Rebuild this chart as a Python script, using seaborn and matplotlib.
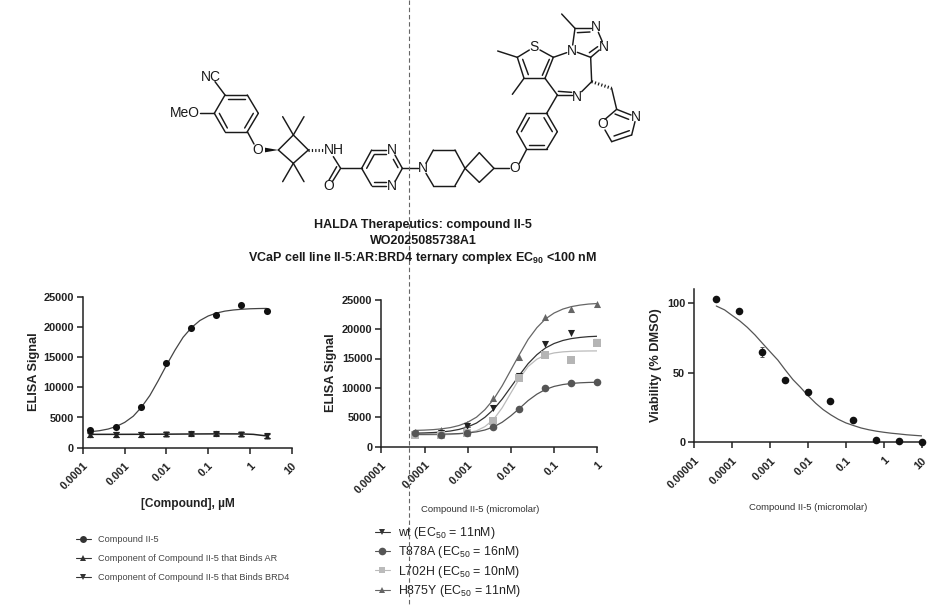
import numpy as np
import matplotlib
matplotlib.use('Agg')
import matplotlib.pyplot as plt
from matplotlib.lines import Line2D
import seaborn as sns

# left panel: compound II-5 and its two components
conc_left = [0.00015, 0.00061, 0.00244, 0.0098, 0.039, 0.156, 0.625, 2.5]
compound = [2870, 3480, 6790, 14020, 19800, 21970, 23600, 22570]
binds_ar = [2250, 2230, 2240, 2260, 2430, 2420, 2320, 1980]
binds_brd4 = [2150, 2150, 2170, 2200, 2330, 2350, 2250, 1950]
ar_err = [420, 420, 420, 380, 380, 420, 350, 380]
brd4_err = [330, 380, 380, 340, 340, 330, 300, 300]

fit_x_left = [0.00015, 0.00025, 0.0004, 0.00063, 0.001, 0.0016, 0.0025, 0.004, 0.0063, 0.01, 0.016,
              0.025, 0.04, 0.063, 0.1, 0.16, 0.25, 0.4, 0.63, 1.0, 1.6, 2.5]
fit_compound = [2640, 2820, 3090, 3520, 4195, 5215, 6685, 8650, 11060, 13660, 16150,
                18280, 19900, 21050, 21810, 22300, 22610, 22800, 22920, 23000, 23040, 23060]
fit_x_flat = [0.00015, 0.00061, 0.00244, 0.0098, 0.039, 0.156, 0.625, 1.2, 2.5]
fit_flat = [2210, 2210, 2220, 2240, 2270, 2290, 2280, 2210, 1950]

# middle panel: AR mutants
conc_mid = [0.000061, 0.00024, 0.00098, 0.0039, 0.0156, 0.0625, 0.25, 1.0]
wt = [2210, 2380, 3570, 6520, 11960, 17400, 19280, 17750]
t878a = [2270, 1930, 2270, 3345, 6400, 10040, 10890, 10940]
l702h = [1980, 1930, 2270, 4420, 11680, 15650, 14690, 17580]
h875y = [2500, 2890, 3910, 8220, 15200, 22100, 23400, 24270]

fit_x_mid = [0.000063, 0.0001, 0.00016, 0.00025, 0.0004, 0.00063, 0.001, 0.0016, 0.0025, 0.004, 0.0063,
             0.01, 0.016, 0.025, 0.04, 0.063, 0.1, 0.16, 0.25, 0.4, 0.63, 1.0]
fit_wt = [2307, 2345, 2407, 2508, 2673, 2941, 3366, 4023, 5000, 6362, 8111,
          10159, 12240, 14121, 15653, 16785, 17551, 18068, 18384, 18584, 18717, 18783]
fit_t878a = [2107, 2112, 2122, 2140, 2174, 2233, 2339, 2524, 2841, 3366, 4165,
             5260, 6550, 7841, 8935, 9736, 10254, 10573, 10760, 10867, 10929, 10960]
fit_l702h = [2004, 2009, 2019, 2039, 2082, 2170, 2350, 2712, 3413, 4660, 6633,
             9150, 11667, 13640, 14884, 15586, 15950, 16130, 16218, 16260, 16282, 16292]
fit_h875y = [2774, 2824, 2905, 3038, 3254, 3605, 4161, 5022, 6297, 8085, 10374,
             13055, 15780, 18243, 20249, 21731, 22734, 23410, 23824, 24086, 24260, 24347]

# right panel: viability
conc_right = [0.000038, 0.00015, 0.00061, 0.00244, 0.0098, 0.039, 0.156, 0.625, 2.5, 10]
viability = [102.6, 94.5, 64.8, 45, 36.4, 29.4, 15.8, 1.7, 0.7, 0.5]
viability_err = [1.0, 1.0, 3.5, 1.0, 1.5, 1.0, 1.0, 0.5, 0.5, 0.5]
fit_x_right = [0.000038, 0.000063, 0.0001, 0.00016, 0.00025, 0.0004, 0.00063, 0.001, 0.0016, 0.0025,
               0.004, 0.0063, 0.01, 0.016, 0.025, 0.04, 0.063, 0.1, 0.16, 0.25, 0.4, 0.63, 1.0, 1.6,
               2.5, 4.0, 6.3, 10]
fit_viability = [97.8, 95, 91, 87, 82.5, 77, 71, 65, 59, 52,
                 45, 39.5, 33.5, 28, 23.5, 19.7, 16.5, 13.9, 12, 10.3,
                 9, 8, 7.2, 6.5, 6, 5.4, 5, 4.6]

ticks_left = ['0.0001', '0.001', '0.01', '0.1', '1', '10']
ticks_mid = ['0.00001', '0.0001', '0.001', '0.01', '0.1', '1']
ticks_right = ['0.00001', '0.0001', '0.001', '0.01', '0.1', '1', '10']

title_lines = ['HALDA Therapeutics: compound II-5', 'WO2025085738A1',
               'VCaP cell line II-5:AR:BRD4 ternary complex EC$_{90}$ <100 nM']

# molecule drawing, in pixels of a 3x view with its origin at (170, 0)
bonds = [
    (135, 245, 165, 285), (165, 285, 232, 285), (232, 285, 265, 340), (265, 340, 232, 395),
    (232, 395, 165, 395), (165, 395, 133, 340), (133, 340, 165, 285), (175, 298, 224, 298),
    (250, 340, 224, 384), (172, 384, 148, 340), (90, 340, 133, 340), (232, 395, 252, 432),
    (325, 450, 370, 405), (370, 405, 415, 450), (415, 450, 370, 490), (370, 490, 325, 450),
    (370, 405, 338, 350), (370, 405, 402, 350), (370, 490, 338, 545), (370, 490, 402, 545),
    (490, 470, 512, 505), (512, 505, 487, 545), (500, 500, 477, 540), (512, 505, 575, 505),
    (575, 505, 605, 450), (590, 505, 612, 465), (605, 450, 648, 450), (612, 462, 648, 462),
    (675, 465, 697, 505), (670, 478, 684, 503), (697, 505, 675, 545), (605, 557, 648, 557),
    (612, 545, 648, 545), (575, 505, 605, 557), (697, 505, 745, 505), (768, 490, 790, 450),
    (790, 450, 855, 450), (855, 450, 885, 505), (885, 505, 855, 557), (855, 557, 790, 557),
    (790, 557, 768, 520), (885, 505, 928, 458), (928, 458, 972, 505), (972, 505, 928, 547),
    (928, 547, 885, 505), (972, 505, 1018, 505), (1048, 490, 1070, 448), (1070, 448, 1040, 395),
    (1040, 395, 1070, 340), (1070, 340, 1130, 340), (1130, 340, 1162, 395), (1162, 395, 1130, 448),
    (1130, 448, 1070, 448), (1078, 435, 1122, 435), (1054, 395, 1078, 353), (1122, 353, 1147, 395),
    (1130, 340, 1162, 285), (1162, 285, 1205, 285), (1165, 274, 1205, 277), (1162, 285, 1125, 235),
    (1125, 235, 1062, 235), (1062, 235, 1042, 172), (1075, 224, 1058, 178), (1042, 172, 1078, 150),
    (1110, 150, 1150, 172), (1150, 172, 1125, 235), (1138, 178, 1117, 226), (1062, 235, 1027, 283),
    (1042, 172, 983, 153), (1150, 172, 1190, 158), (1208, 135, 1215, 85), (1215, 85, 1175, 42),
    (1215, 85, 1262, 85), (1222, 98, 1260, 96), (1285, 97, 1297, 125), (1288, 150, 1262, 172),
    (1283, 140, 1258, 158), (1262, 172, 1222, 157), (1262, 172, 1265, 245), (1265, 245, 1235, 275),
    (1325, 265, 1340, 328), (1340, 328, 1383, 345), (1335, 342, 1376, 358), (1395, 365, 1385, 405),
    (1385, 405, 1325, 425), (1378, 392, 1332, 408), (1340, 328, 1305, 358), (1305, 390, 1325, 425),
]
hash_bonds = [(415, 450, 460, 450), (1265, 245, 1325, 265)]
atoms = [
    ('NC', 122, 232), ('MeO', 44, 340), ('O', 262, 450), ('NH', 492, 450), ('O', 477, 557),
    ('N', 665, 450), ('N', 665, 557), ('N', 760, 505), ('O', 1035, 503), ('N', 1222, 292),
    ('S', 1093, 140), ('N', 1205, 152), ('N', 1278, 80), ('N', 1303, 140), ('O', 1297, 373),
    ('N', 1398, 350),
]

sns.set_style('white')
plt.rcParams['font.family'] = ['Liberation Sans', 'DejaVu Sans']
plt.rcParams['mathtext.fontset'] = 'custom'
plt.rcParams['mathtext.rm'] = 'Liberation Sans'
plt.rcParams['mathtext.bf'] = 'Liberation Sans:bold'
plt.rcParams['mathtext.default'] = 'regular'

W, H = 942, 607
fig = plt.figure(figsize=(W / 100, H / 100), dpi=100)


def panel(left, right, top, bottom, xlim, ylim, xlabels, yticks):
    ax = fig.add_axes([left / W, 1 - bottom / H, (right - left) / W, (bottom - top) / H])
    ax.set_xscale('log')
    ax.set_xlim(*xlim)
    ax.set_ylim(*ylim)
    ax.set_xticks([float(t) for t in xlabels])
    ax.set_xticklabels(xlabels, rotation=45, ha='right', rotation_mode='anchor',
                       fontweight='bold', fontsize=7.9, color='#222222')
    ax.minorticks_off()
    ax.set_yticks(yticks)
    ax.set_yticklabels([str(t) for t in yticks], fontweight='bold', fontsize=7.9, color='#222222')
    ax.tick_params(axis='both', length=4.5, width=1.1, color='#222222', left=True, bottom=True)
    ax.tick_params(axis='x', pad=5)
    ax.tick_params(axis='y', pad=2)
    sns.despine(ax=ax)
    for side in ['left', 'bottom']:
        ax.spines[side].set_linewidth(1.1)
        ax.spines[side].set_color('#222222')
    ax.patch.set_alpha(0)
    return ax


def curve(ax, x, y, color, lw=0.9):
    sns.lineplot(x=x, y=y, color=color, lw=lw, estimator=None, sort=False, ax=ax, zorder=2)


def points(ax, x, y, marker, color, size):
    sns.scatterplot(x=x, y=y, marker=marker, color=color, s=size, edgecolor=color, linewidth=0,
                    ax=ax, zorder=3, clip_on=False)


def xlabel_at(ax, text, x, y, **kw):
    ax.set_xlabel(text, va='center', ha='center', **kw)
    ax.xaxis.set_label_coords(x / W, 1 - y / H, transform=fig.transFigure)


def ylabel_at(ax, text, x, y):
    ax.set_ylabel(text, fontweight='bold', fontsize=9.2, color='#222222', va='center', ha='center')
    ax.yaxis.set_label_coords(x / W, 1 - y / H, transform=fig.transFigure)


def key(ax, entries, anchor, fontsize, spacing, color, hlen, hpad):
    handles = [Line2D([], [], color=c, lw=0.8, marker=m, markersize=s, markeredgewidth=0) for _, m, c, s in entries]
    ax.legend(handles, [e[0] for e in entries], loc='upper left', bbox_to_anchor=anchor,
              bbox_transform=fig.transFigure, frameon=False, fontsize=fontsize, labelspacing=spacing,
              handlelength=hlen, handletextpad=hpad, labelcolor=color, borderpad=0, borderaxespad=0)


# left
ax1 = panel(83, 291.7, 296.7, 447.7, (0.0001, 10), (0, 25000), ticks_left, [0, 5000, 10000, 15000, 20000, 25000])
curve(ax1, fit_x_left, fit_compound, '#444444')
curve(ax1, fit_x_flat, fit_flat, '#222222', lw=1.1)
ax1.errorbar(conc_left, binds_ar, yerr=ar_err, fmt='none', ecolor='#222222', elinewidth=1.0, capsize=2, capthick=0.8)
ax1.errorbar(conc_left, binds_brd4, yerr=brd4_err, fmt='none', ecolor='#222222', elinewidth=1.0, capsize=2, capthick=0.8)
points(ax1, conc_left, binds_ar, '^', '#222222', 18)
points(ax1, conc_left, binds_brd4, 'v', '#222222', 18)
points(ax1, conc_left, compound, 'o', '#111111', 26)
xlabel_at(ax1, '[Compound], µM', 187.5, 504, fontweight='bold', fontsize=8.6, color='#222222')
ylabel_at(ax1, 'ELISA Signal', 34, 372)
key(ax1, [('Compound II-5', 'o', '#333333', 5),
          ('Component of Compound II-5 that Binds AR', '^', '#333333', 4.5),
          ('Component of Compound II-5 that Binds BRD4', 'v', '#333333', 4.5)],
    (76 / W, 1 - 535 / H), 6.55, 1.12, '#444444', 1.6, 0.8)

# middle
ax2 = panel(381.3, 597.3, 299.7, 446.7, (0.00001, 1), (0, 25000), ticks_mid, [0, 5000, 10000, 15000, 20000, 25000])
curve(ax2, fit_x_mid, fit_h875y, '#666666')
curve(ax2, fit_x_mid, fit_wt, '#333333')
curve(ax2, fit_x_mid, fit_l702h, '#bbbbbb')
curve(ax2, fit_x_mid, fit_t878a, '#555555')
points(ax2, conc_mid, h875y, '^', '#666666', 26)
points(ax2, conc_mid, wt, 'v', '#222222', 26)
points(ax2, conc_mid, l702h, 's', '#b5b5b5', 26)
points(ax2, conc_mid, t878a, 'o', '#555555', 30)
xlabel_at(ax2, 'Compound II-5 (micromolar)', 480, 509, fontsize=6.8, color='#333333')
ylabel_at(ax2, 'ELISA Signal', 331, 372.5)
key(ax2, [('wt (EC$_{50}$ = 11nM)', 'v', '#333333', 5),
          ('T878A (EC$_{50}$ = 16nM)', 'o', '#555555', 5.5),
          ('L702H (EC$_{50}$ = 10nM)', 's', '#bbbbbb', 5),
          ('H875Y (EC$_{50}$ = 11nM)', '^', '#666666', 5)],
    (375 / W, 1 - 525 / H), 8.9, 0.27, '#222222', 1.2, 0.7)

# right
ax3 = panel(694.3, 921.7, 289, 442.3, (0.00001, 10), (0, 110), ticks_right, [0, 50, 100])
curve(ax3, fit_x_right, fit_viability, '#555555')
ax3.errorbar(conc_right, viability, yerr=viability_err, fmt='none', ecolor='#555555', elinewidth=0.8, capsize=1.5, capthick=0.7)
points(ax3, conc_right, viability, 'o', '#111111', 30)
xlabel_at(ax3, 'Compound II-5 (micromolar)', 808, 507, fontsize=6.8, color='#333333')
ylabel_at(ax3, 'Viability (% DMSO)', 656, 365)

# overlay in picture pixels for the molecule, the caption and the dashed divider
over = fig.add_axes([0, 0, 1, 1], zorder=10)
over.set_xlim(0, W)
over.set_ylim(H, 0)
over.axis('off')
over.patch.set_alpha(0)


def px(x, y):
    return 170 + x / 3, y / 3


for x0, y0, x1, y1 in bonds:
    a, b = px(x0, y0), px(x1, y1)
    over.plot([a[0], b[0]], [a[1], b[1]], color='#1a1a1a', lw=1.05, solid_capstyle='round')

# filled wedge from the cyclobutane to the aryl ether oxygen
wedge = [px(325, 450), px(285, 443), px(285, 457)]
over.fill([p[0] for p in wedge], [p[1] for p in wedge], color='#111111', lw=0)

for x0, y0, x1, y1 in hash_bonds:
    a, b = px(x0, y0), px(x1, y1)
    over.plot([a[0], b[0]], [a[1], b[1]], color='#1a1a1a', lw=2.2, dashes=(0.4, 0.7))

for label, x, y in atoms:
    ax_, ay_ = px(x, y)
    over.text(ax_, ay_, label, ha='center', va='center', fontsize=10, color='#1a1a1a')

for line, y in zip(title_lines, [225, 241, 258]):
    over.text(423, y, line, ha='center', va='center', fontsize=9, fontweight='bold', color='#1a1a1a')

over.plot([408.7, 408.7], [0, H], color='#666666', lw=0.8, dashes=(4, 2.5))

fig.savefig('out.png', dpi=100, facecolor='white')
